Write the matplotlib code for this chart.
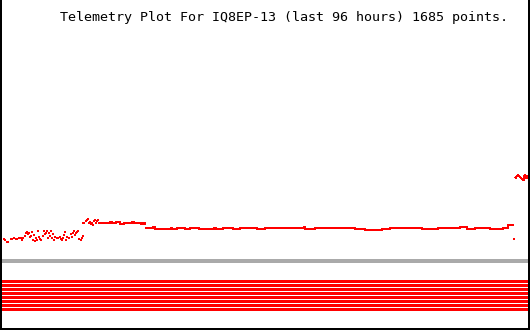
import matplotlib
matplotlib.use("Agg")
import matplotlib.pyplot as plt

# ---- data (pixel-row units, top = 0) ----
title = "Telemetry Plot For IQ8EP-13 (last 96 hours) 1685 points."

# first, noisy segment (individual samples)
seg1_x = [1, 3.5, 5, 7, 8, 11, 12, 14, 16, 17, 19, 21, 21.5, 23, 24.5, 25.5, 27, 27.5,
          28.5, 29.5, 30.5, 31.5, 32.5, 33.5, 34.5, 35.5, 36.5, 37.5, 38.5, 39.5, 40.5,
          42.5, 43.5, 44.5, 45.5, 46.5, 47.5, 48.5, 49.5, 50.5, 51.5, 52.5, 53.5, 55,
          57, 58, 59.5, 60.5, 61.5, 62.5, 63.5, 64.5, 65.5, 67, 69, 70.5, 71.5, 72.5,
          73.5, 74.5, 75.5, 76.5, 77.5, 79, 80.5, 81.5, 82.5]
seg1_y = [240.5, 238.5, 239.5, 241.5, 241.5, 238.5, 238.5, 238, 238.5, 238.5, 238, 237.5,
          240, 238, 236, 233, 232, 234, 233, 237, 236, 232, 240, 235, 241, 238, 240, 231,
          237, 239, 240, 236, 231, 234, 233, 231, 238, 233, 236, 231, 238, 234, 240,
          237, 238, 238, 237, 239, 240, 238, 235, 232, 240, 237, 238, 234, 237, 233,
          231, 235, 233, 232, 231, 239, 240, 238, 236]

# step up segment
seg2_x = [83, 84, 85.5, 86.5, 87.5, 88.5, 89.5, 90.5, 91.5, 92.5, 93.5, 94.5, 95.5,
          96.5, 97.5, 99]
seg2_y = [223, 223, 221, 220, 219, 223, 222, 224, 223, 225, 221, 220, 223, 221, 220, 223]

seg2b_x = [100, 104, 108, 110, 112, 116, 120, 124, 128, 132, 134, 138, 141, 143, 145]
seg2b_y = [223, 223, 223, 222, 223, 222, 224, 223, 223, 222, 223, 223, 224, 223, 224]

# long flat segment
seg3_x = [146, 153, 155, 171, 172, 177, 185, 190, 199, 214, 216, 223, 233, 240, 257,
          265, 272, 280, 304, 305, 315, 333, 340, 355, 365, 382, 390, 422, 438, 460,
          467, 475, 490, 503, 508, 513]
seg3_y = [228, 227, 228.5, 227.5, 228.5, 228, 229, 228, 229, 228, 229, 228, 229, 228,
          229, 228, 227.5, 228, 226.5, 229, 228, 227.5, 228, 229, 229.5, 228.5, 228,
          229, 228, 227, 229, 228, 229, 227.5, 225, 225]

outlier_x = [514]
outlier_y = [239]

seg4_x = [515.5, 517, 518.5, 520, 522, 523.5, 525, 526.5, 528]
seg4_y = [177.5, 176, 175.5, 177, 179, 180, 175, 178, 176]

# constant channels shown as stripes
stripe_rows = [281.5, 285.5, 289.5, 293.5, 297.5, 301.5, 305.5, 309.5]
divider_row = 260.5

RED = "#ff0000"

fig = plt.figure(figsize=(5.30, 3.30), dpi=100)
ax = fig.add_axes([0, 0, 1, 1])
ax.set_xlim(0, 530)
ax.set_ylim(330, 0)
ax.axis("off")

# divider
ax.hlines(divider_row, 1, 529, color="#aaaaaa", linewidth=1.6, antialiased=False)

# stripes
ax.barh(stripe_rows, [527] * len(stripe_rows), left=1, height=3, color=RED,
        linewidth=0, antialiased=False)

# data
ms = dict(marker="s", ms=1.6, mew=0, color=RED, linestyle="none", antialiased=False)
ax.plot(seg1_x, seg1_y, **ms)
ax.plot(seg2_x, seg2_y, **ms)
ax.plot(seg2b_x, seg2b_y, color=RED, lw=1.3, drawstyle="steps-post", antialiased=False)
ax.plot(seg3_x, seg3_y, color=RED, lw=1.3, drawstyle="steps-post", antialiased=False)
ax.plot(outlier_x, outlier_y, **ms)
ax.plot(seg4_x, seg4_y, color=RED, lw=1.0, antialiased=False)
ax.plot(seg4_x, seg4_y, **ms)

# frame (left, right, bottom)
ax.vlines(0.5, 0, 330, color="black", linewidth=1.2, antialiased=False)
ax.vlines(529.2, 0, 330, color="black", linewidth=1.2, antialiased=False)
ax.hlines(329.2, 0, 530, color="black", linewidth=1.2, antialiased=False)

fig.text(60 / 530, 1 - 17 / 330, title, family="DejaVu Sans Mono", fontsize=9.6,
         ha="left", va="center", color="black")

fig.savefig("out.png", dpi=100)
